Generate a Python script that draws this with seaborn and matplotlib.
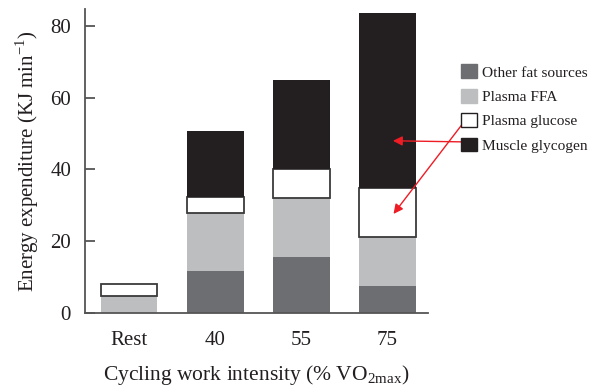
import matplotlib
matplotlib.use("Agg")
import matplotlib.pyplot as plt
import seaborn as sns
import pandas as pd
import numpy as np
from matplotlib.patches import Patch

# Energy sources during cycling (kJ per minute)
intensities = ["Rest", "40", "55", "75"]
other_fat = [0.0, 11.7, 15.7, 7.6]
plasma_ffa = [4.7, 16.2, 16.4, 13.5]
plasma_glucose = [3.5, 4.4, 8.0, 13.6]
muscle_glycogen = [0.0, 18.4, 24.8, 49.0]

components = ["Other fat sources", "Plasma FFA", "Plasma glucose", "Muscle glycogen"]
values = [other_fat, plasma_ffa, plasma_glucose, muscle_glycogen]
fills = ["#6d6e71", "#bcbec0", "#ffffff", "#231f20"]
edges = ["none", "none", "#3a3a3a", "none"]

sns.set_theme(style="white")
plt.rcParams["font.family"] = ["Liberation Serif", "DejaVu Serif"]
plt.rcParams["mathtext.fontset"] = "custom"
plt.rcParams["mathtext.rm"] = "Liberation Serif"

fig = plt.figure(figsize=(5.92, 3.86), dpi=100)
ax = fig.add_axes([0.1436, 0.189, 0.5794, 0.7877])

bottom = np.zeros(len(intensities))
for name, vals, fc, ec in zip(components, values, fills, edges):
    df = pd.DataFrame({"intensity": intensities, "energy": vals})
    sns.barplot(data=df, x="intensity", y="energy", order=intensities,
                color=fc, saturation=1, width=0.66, bottom=bottom,
                edgecolor=ec, linewidth=1.3 if ec != "none" else 0,
                errorbar=None, ax=ax)
    bottom = bottom + np.array(vals)

axis_col = "#555555"
text_col = "#231f20"
ax.set_xlim(-0.51, 3.47)
ax.set_ylim(0, 84.7)
ax.set_yticks([0, 20, 40, 60, 80])
for side in ["top", "right"]:
    ax.spines[side].set_visible(False)
for side in ["left", "bottom"]:
    ax.spines[side].set_color(axis_col)
    ax.spines[side].set_linewidth(1.3)
ax.tick_params(axis="y", direction="in", length=7, width=1.3, color=axis_col,
               labelsize=15, pad=10, left=True, labelcolor=text_col)
ax.tick_params(axis="x", length=0, labelsize=15, pad=13, labelcolor=text_col)

ax.set_xlabel("Cycling work intensity (% VO$_{\\mathregular{2max}}$)",
              fontsize=15.5, color=text_col, labelpad=9)
ax.set_ylabel("Energy expenditure (KJ min$^{\\mathregular{-1}}$)",
              fontsize=15, color=text_col, labelpad=7)

handles = [Patch(facecolor=fc, edgecolor=("#231f20" if ec != "none" else fc),
                 linewidth=1.0) for fc, ec in zip(fills, edges)]
fig.legend(handles, components, loc="upper left",
           bbox_to_anchor=(449 / 592, 1 - 52 / 386), frameon=False,
           fontsize=11.1, handlelength=1.0, handleheight=1.0,
           handletextpad=0.35, labelspacing=0.6, borderpad=0.3,
           labelcolor=text_col)

# Arrows from the legend keys to the 75% bar segments
red = "#ee1c25"
ax.annotate("", xy=(3.03, 48), xycoords="data",
            xytext=(470, 386 - 142), textcoords="figure pixels",
            arrowprops=dict(arrowstyle="-|>", color=red, lw=1.0,
                            mutation_scale=14), annotation_clip=False)
ax.annotate("", xy=(3.05, 27), xycoords="data",
            xytext=(467, 386 - 118), textcoords="figure pixels",
            arrowprops=dict(arrowstyle="-|>", color=red, lw=1.0,
                            mutation_scale=14), annotation_clip=False)

fig.savefig("out.png", dpi=100)
